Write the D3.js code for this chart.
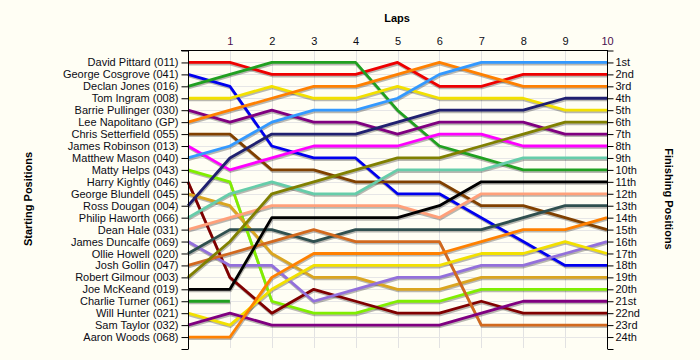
<!DOCTYPE html>
<html>
<head>
<meta charset="utf-8">
<script src="https://cdn.jsdelivr.net/npm/d3@7"></script>
<style>
  html, body { margin: 0; padding: 0; background: #FFFEF4; }
  svg { display: block; font-family: "Liberation Sans", Arial, sans-serif; }
</style>
</head>
<body>
<svg id="chart" width="700" height="360"></svg>
<script>
// ---- data ----
const laps = [0, 1, 2, 3, 4, 5, 6, 7, 8, 9, 10];
const lapTickLabels = ["1", "2", "3", "4", "5", "6", "7", "8", "9", "10"];
const drivers = [
  "David Pittard (011)", "George Cosgrove (041)", "Declan Jones (016)", "Tom Ingram (008)",
  "Barrie Pullinger (030)", "Lee Napolitano (GP)", "Chris Setterfield (055)", "James Robinson (013)",
  "Matthew Mason (040)", "Matty Helps (043)", "Harry Kightly (046)", "George Blundell (045)",
  "Ross Dougan (004)", "Philip Haworth (066)", "Dean Hale (031)", "James Duncalfe (069)",
  "Ollie Howell (020)", "Josh Gollin (047)", "Robert Gilmour (003)", "Joe McKeand (019)",
  "Charlie Turner (061)", "Will Hunter (021)", "Sam Taylor (032)", "Aaron Woods (068)"
];
const finishLabels = ["1st","2nd","3rd","4th","5th","6th","7th","8th","9th","10th","11th","12th",
  "13th","14th","15th","16th","17th","18th","19th","20th","21st","22nd","23rd","24th"];
// position of each driver at laps 0..10 (null = retired)
const positions = [
  [1, 1, 2, 2, 2, 1, 3, 3, 2, 2, 2],
  [2, 3, 8, 9, 9, 12, 12, 14, 16, 18, 18],
  [3, 2, 1, 1, 1, 5, 8, 9, 10, 10, 10],
  [4, 4, 3, 4, 4, 3, 4, 4, 4, 5, 5],
  [5, 6, 5, 6, 6, 7, 6, 6, 6, 7, 7],
  [6, 5, 4, 3, 3, 2, 1, 2, 3, 3, 3],
  [7, 7, 10, 10, 11, 11, 11, 13, 13, 14, 15],
  [8, 10, 9, 8, 8, 8, 7, 7, 8, 8, 8],
  [9, 8, 6, 5, 5, 4, 2, 1, 1, 1, 1],
  [10, 11, 21, 22, 22, 21, 21, 20, 20, 20, 20],
  [11, 19, 22, 20, 21, 22, 22, 21, 22, 22, 22],
  [12, 13, 17, 19, 19, 20, 20, 19, 19, 19, 19],
  [13, 9, 7, 7, 7, 6, 5, 5, 5, 4, 4],
  [14, 12, 11, 12, 12, 10, 10, 10, 9, 9, 9],
  [15, 14, 13, 13, 13, 13, 14, 12, 12, 12, 12],
  [16, 18, 18, 21, 20, 19, 19, 18, 18, 17, 16],
  [17, 15, 15, 16, 15, 15, 15, 15, 14, 13, 13],
  [18, 17, 16, 15, 16, 16, 16, 23, 23, 23, 23],
  [19, 16, 12, 11, 10, 9, 9, 8, 7, 6, 6],
  [20, 20, 14, 14, 14, 14, 13, 11, 11, 11, 11],
  [21, 21, null, null, null, null, null, null, null, null, null],
  [22, 23, 20, 18, 18, 18, 18, 17, 17, 16, 17],
  [23, 22, 23, 23, 23, 23, 23, 22, 21, 21, 21],
  [24, 24, 19, 17, 17, 17, 17, 16, 15, 15, 14]
];
// ---- styles ----
const palette = [
  "#EE0000", "#0000EE", "#20A020", "#F2E000", "#800080", "#FF8000", "#804000", "#FF00FF",
  "#3399FF", "#80EE00", "#800000", "#DAA520", "#202070", "#66CDAA", "#FFA07A", "#9370DB",
  "#2F4F4F", "#D2691E", "#808000", "#000000", "#20A020", "#F2E000", "#800080", "#FF8000"
];

const svg = d3.select("#chart");
const x = d3.scaleLinear().domain([0, 10]).range([188, 607]);
const y = d3.scaleLinear().domain([0, 25]).range([50.5, 349]);

// grid
const grid = svg.append("g");
grid.selectAll("line.v").data(laps.slice(1, -1)).join("line")
  .attr("x1", d => Math.round(x(d)) + 0.5).attr("x2", d => Math.round(x(d)) + 0.5)
  .attr("y1", y(0)).attr("y2", 348)
  .attr("stroke", "#E2E2E2").attr("stroke-width", 1);
grid.selectAll("line.h").data(d3.range(1, 25)).join("line")
  .attr("x1", x(0)).attr("x2", x(10))
  .attr("y1", d => Math.round(y(d)) + 0.5).attr("y2", d => Math.round(y(d)) + 0.5)
  .attr("stroke", "#E6E6E6").attr("stroke-width", 1);

// lines
const lineGen = d3.line()
  .defined(d => d != null)
  .x((d, i) => x(laps[i]))
  .y(d => y(d));

const shadows = svg.append("g").attr("transform", "translate(0.6,1.6)");
shadows.selectAll("path").data(positions).join("path")
  .attr("d", d => lineGen(d))
  .attr("fill", "none")
  .attr("stroke", "#000")
  .attr("stroke-opacity", 0.28)
  .attr("stroke-width", 2.8)
  .attr("stroke-linejoin", "round");

const linesG = svg.append("g");
linesG.selectAll("path").data(positions).join("path")
  .attr("d", d => lineGen(d))
  .attr("fill", "none")
  .attr("stroke", (d, i) => palette[i])
  .attr("stroke-width", 2.8)
  .attr("stroke-linejoin", "round");

// axes
const leftAxis = d3.axisLeft(y).tickValues(d3.range(0, 26)).tickSize(7).tickPadding(3)
  .tickFormat(d => drivers[d - 1] || "");
const gl = svg.append("g").attr("transform", "translate(188.5,0)").call(leftAxis);

const rightAxis = d3.axisRight(y).tickValues(d3.range(0, 26)).tickSize(6).tickPadding(2)
  .tickFormat(d => finishLabels[d - 1] || "");
const gr = svg.append("g").attr("transform", "translate(607.5,0)").call(rightAxis);

const topAxis = d3.axisTop(x).tickValues(laps.slice(1)).tickSize(0).tickPadding(6)
  .tickFormat(d => lapTickLabels[d - 1]);
const gt = svg.append("g").attr("transform", "translate(0,50.5)").call(topAxis);

[gl, gr, gt].forEach(g => {
  g.select(".domain").remove();
  g.selectAll("text").attr("font-size", 11).attr("fill", "#0c0c14")
    .attr("font-family", '"Liberation Sans", Arial, sans-serif');
  g.selectAll("line").attr("stroke", "#000");
});
gt.selectAll(".tick text").attr("fill", (d) => (d === 1 || d === 10) ? "#4a0f4f" : "#0c0c14");

// frame lines
svg.append("line").attr("x1", 181).attr("x2", 608).attr("y1", 50.5).attr("y2", 50.5).attr("stroke", "#000");
svg.append("line").attr("x1", 188.5).attr("x2", 188.5).attr("y1", 50).attr("y2", 349).attr("stroke", "#000");
svg.append("line").attr("x1", 607.5).attr("x2", 607.5).attr("y1", 50).attr("y2", 349).attr("stroke", "#000");

// titles
svg.append("text").attr("x", 397).attr("y", 22).attr("text-anchor", "middle")
  .attr("font-size", 11).attr("font-weight", "bold").attr("fill", "#000").text("Laps");
svg.append("text").attr("transform", "translate(32,199) rotate(-90)").attr("text-anchor", "middle")
  .attr("font-size", 11).attr("font-weight", "bold").attr("fill", "#000").text("Starting Positions");
svg.append("text").attr("transform", "translate(665,199) rotate(90)").attr("text-anchor", "middle")
  .attr("font-size", 11).attr("font-weight", "bold").attr("fill", "#000").text("Finishing Positions");
</script>
</body>
</html>
